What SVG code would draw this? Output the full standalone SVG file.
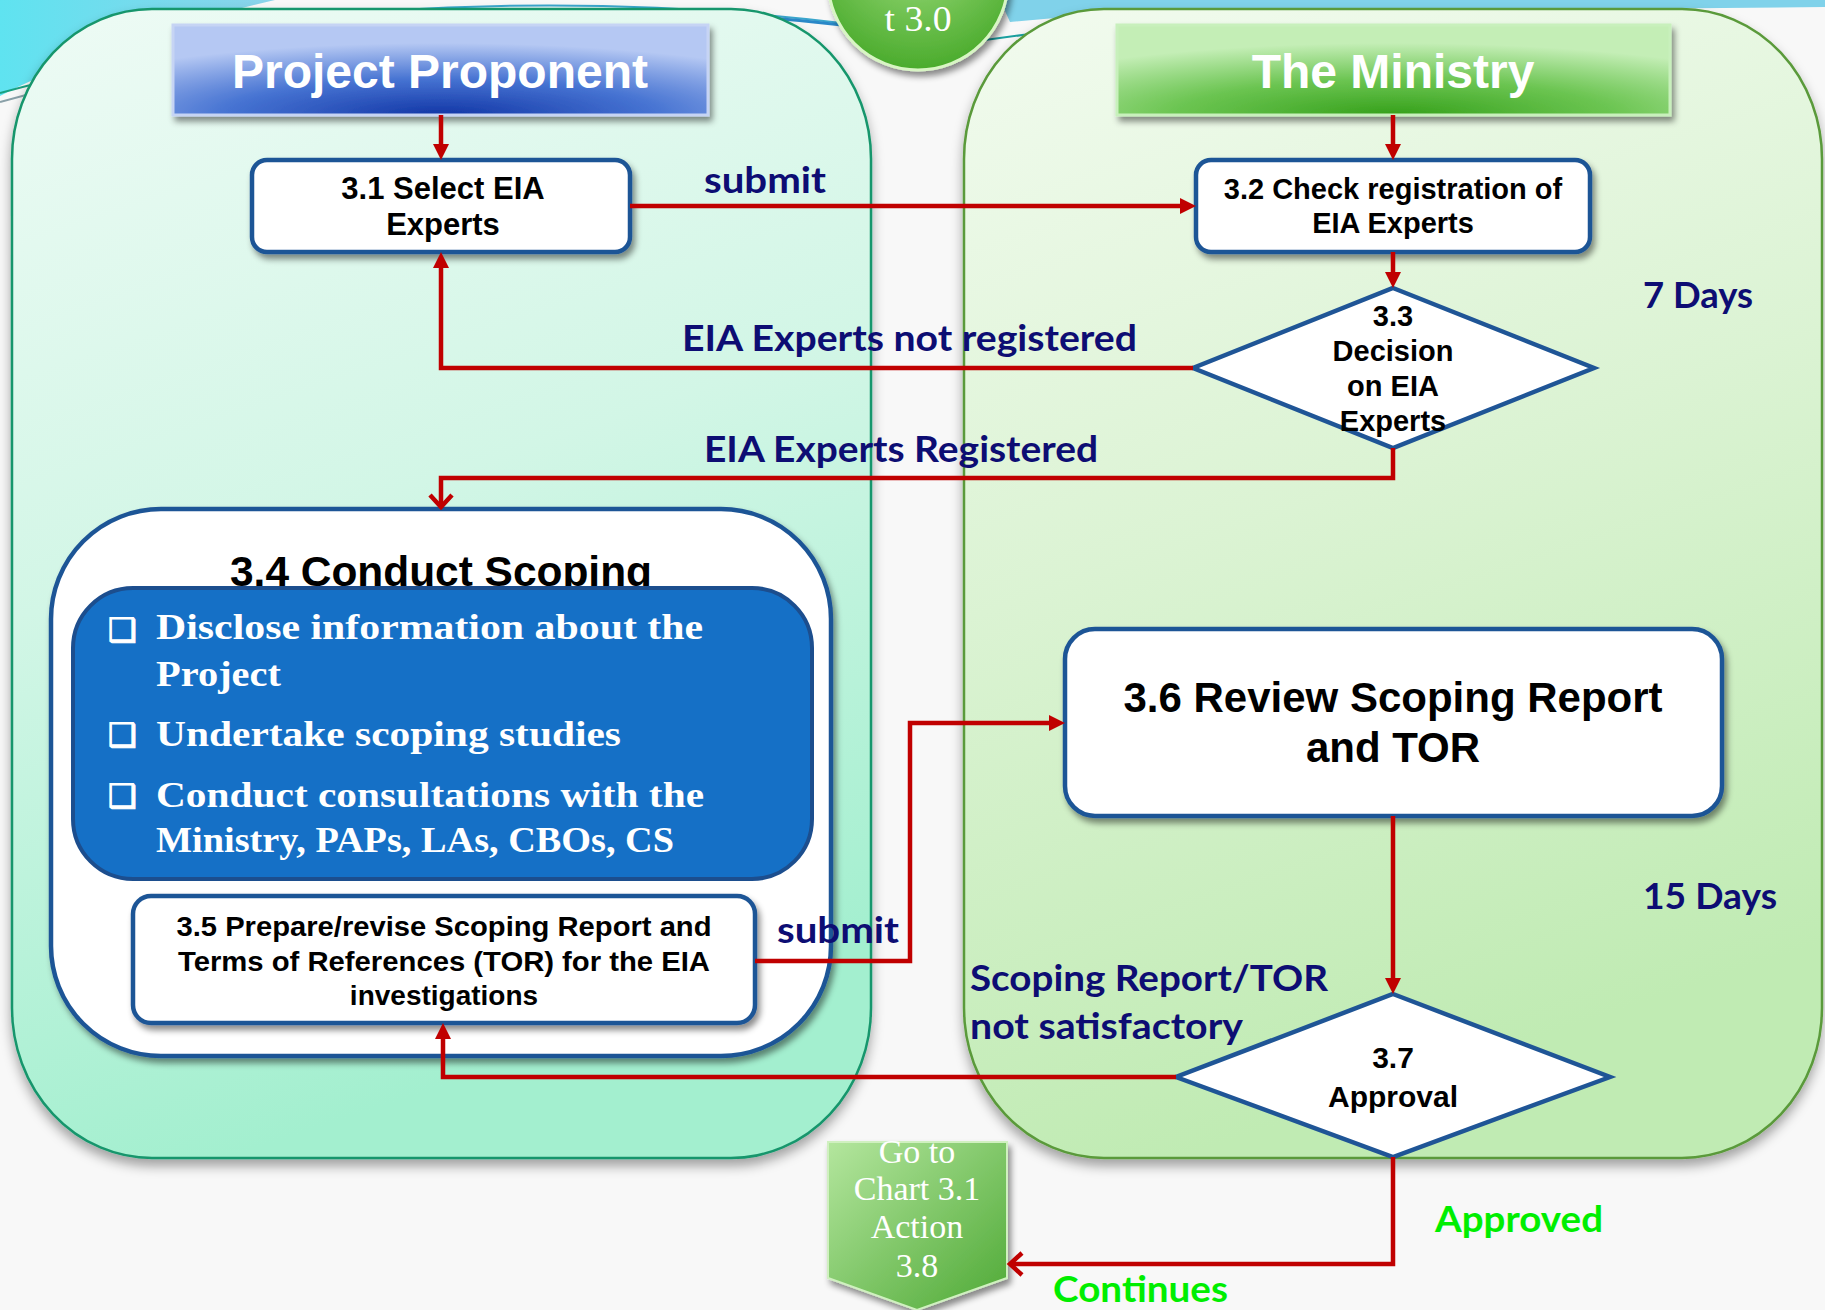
<svg xmlns="http://www.w3.org/2000/svg" width="1825" height="1310" viewBox="0 0 1825 1310">
<defs>
  <linearGradient id="gLeft" x1="0" y1="0" x2="0.25" y2="1">
    <stop offset="0" stop-color="#eefbf5"/>
    <stop offset="0.5" stop-color="#d2f6e6"/>
    <stop offset="1" stop-color="#a3efcf"/>
  </linearGradient>
  <linearGradient id="gRight" x1="0" y1="0" x2="0.25" y2="1">
    <stop offset="0" stop-color="#f2fbef"/>
    <stop offset="0.5" stop-color="#dbf3d3"/>
    <stop offset="1" stop-color="#c0ebb3"/>
  </linearGradient>
  <radialGradient id="gHdrBlue" cx="0.5" cy="1" r="0.8">
    <stop offset="0" stop-color="#1236a6"/>
    <stop offset="0.5" stop-color="#4673d2"/>
    <stop offset="1" stop-color="#b5c8f3"/>
  </radialGradient>
  <radialGradient id="gHdrGreen" cx="0.5" cy="1" r="0.8">
    <stop offset="0" stop-color="#35a01a"/>
    <stop offset="0.5" stop-color="#6cc552"/>
    <stop offset="1" stop-color="#c4eeb6"/>
  </radialGradient>
  <radialGradient id="gBadge" cx="0.5" cy="0.3" r="0.7">
    <stop offset="0" stop-color="#a2df82"/>
    <stop offset="1" stop-color="#4aab2c"/>
  </radialGradient>
  <linearGradient id="gGoto" x1="0" y1="0" x2="1" y2="1">
    <stop offset="0" stop-color="#b4e69e"/>
    <stop offset="1" stop-color="#4ea935"/>
  </linearGradient>
  <linearGradient id="gCyan" x1="0" y1="0" x2="1" y2="0">
    <stop offset="0" stop-color="#5fe3f0"/>
    <stop offset="1" stop-color="#8bd3ea"/>
  </linearGradient>
  <filter id="sh" x="-10%" y="-10%" width="125%" height="140%">
    <feDropShadow dx="3" dy="5" stdDeviation="3" flood-color="#000" flood-opacity="0.45"/>
  </filter>
  <filter id="shPanel" x="-5%" y="-5%" width="110%" height="112%">
    <feDropShadow dx="0" dy="7" stdDeviation="6" flood-color="#000" flood-opacity="0.35"/>
  </filter>
  <marker id="arr" markerUnits="userSpaceOnUse" markerWidth="16" markerHeight="16" refX="8" refY="8" orient="auto">
    <path d="M0,0 L16,8 L0,16 Z" fill="#C00000"/>
  </marker>
  <marker id="openArr" markerUnits="userSpaceOnUse" markerWidth="30" markerHeight="30" refX="14" refY="13" orient="auto" overflow="visible">
    <path d="M2,2 L14,13 L2,24" fill="none" stroke="#C00000" stroke-width="4.5"/>
  </marker>
</defs>
<style>
  .panelL { fill:url(#gLeft); stroke:#17966c; stroke-width:2.5; }
  .panelR { fill:url(#gRight); stroke:#5a9a3a; stroke-width:2.5; }
  .box { fill:#fff; stroke:#1F5596; stroke-width:4.5; }
  .nt { font-family:"Liberation Sans", Arial, sans-serif; font-weight:bold; fill:#000; text-anchor:middle; }
  .hdr { font-family:"Liberation Sans", Arial, sans-serif; font-weight:bold; fill:#fff; font-size:48px; text-anchor:middle; }
  .lbl { font-family:Lato, "Open Sans", sans-serif; font-weight:bold; fill:#0D0D73; font-size:37px; }
  .grn { fill:#00EE00; }
  .bul { font-family:"Liberation Serif", serif; font-weight:bold; fill:#fff; font-size:36px; }
  .chk { font-family:"DejaVu Sans", sans-serif; fill:#fff; stroke:#fff; stroke-width:1.2; font-size:32px; }
  .srf { font-family:"Liberation Serif", serif; fill:#fff; text-anchor:middle; }
  .con { fill:none; stroke:#C00000; stroke-width:4.5; }
</style>

<!-- background -->
<rect x="0" y="0" width="1825" height="1310" fill="#f8f8f8"/>
<path d="M0,0 H275 C170,25 80,55 0,96 Z" fill="url(#gCyan)"/>
<path d="M0,93 Q40,82 95,70" fill="none" stroke="#1aa080" stroke-width="2"/>
<path d="M0,102 Q35,92 70,84" fill="none" stroke="#8aa0a8" stroke-width="2"/>
<path d="M260,22 Q560,-12 850,24" fill="none" stroke="#3aa6cc" stroke-width="2"/>
<path d="M760,17 Q800,20 842,25" fill="none" stroke="#2a88c8" stroke-width="3"/>
<path d="M1000,0 H1825 V7 L1500,10 L1100,14 L1010,22 Z" fill="#80d2ea"/>
<path d="M985,40 L1030,34" fill="none" stroke="#1aa0a0" stroke-width="2"/>

<!-- swimlanes -->
<g id="lane-proponent">
  <rect class="panelL" x="12" y="9" width="859" height="1149" rx="140" ry="150" filter="url(#shPanel)"/>
  <rect x="173" y="25" width="535" height="90" fill="url(#gHdrBlue)" stroke="#c6d4f4" stroke-width="3" filter="url(#sh)"/>
  <text class="hdr" x="440" y="88">Project Proponent</text>
</g>
<g id="lane-ministry">
  <rect class="panelR" x="964" y="9" width="858" height="1149" rx="140" ry="150" filter="url(#shPanel)"/>
  <rect x="1117" y="25" width="553" height="90" fill="url(#gHdrGreen)" stroke="#c8f0bc" stroke-width="3" filter="url(#sh)"/>
  <text class="hdr" x="1393" y="88">The Ministry</text>
</g>

<g id="badge-3-0">
  <circle cx="918" cy="-20" r="90" fill="url(#gBadge)" stroke="#d8f5c4" stroke-width="3" filter="url(#sh)"/>
  <text class="srf" x="918" y="31" font-size="35" textLength="67" lengthAdjust="spacingAndGlyphs">t 3.0</text>
</g>

<!-- nodes -->
<g id="n31">
  <rect class="box" x="252" y="160" width="378" height="92" rx="15" filter="url(#sh)"/>
  <text class="nt" x="443" y="199" font-size="31">3.1 Select EIA</text>
  <text class="nt" x="443" y="235" font-size="31">Experts</text>
</g>
<g id="n32">
  <rect class="box" x="1196" y="160" width="394" height="92" rx="15" filter="url(#sh)"/>
  <text class="nt" x="1393" y="199" font-size="29">3.2 Check registration of</text>
  <text class="nt" x="1393" y="233" font-size="29">EIA Experts</text>
</g>
<g id="n33">
  <polygon class="box" points="1393,288 1594,368 1393,448 1193,368"/>
  <text class="nt" x="1393" y="326" font-size="29">3.3</text>
  <text class="nt" x="1393" y="361" font-size="29">Decision</text>
  <text class="nt" x="1393" y="396" font-size="29">on EIA</text>
  <text class="nt" x="1393" y="431" font-size="29">Experts</text>
</g>
<g id="n34">
  <rect class="box" x="51" y="509" width="780" height="547" rx="110" filter="url(#sh)"/>
  <text class="nt" x="441" y="586" font-size="42" textLength="422" lengthAdjust="spacingAndGlyphs">3.4 Conduct Scoping</text>
  <rect x="73" y="588" width="739" height="291" rx="60" fill="#1570C6" stroke="#1C4E8E" stroke-width="4"/>
  <text class="chk" x="108" y="641">❑</text>
  <text class="bul" x="156" y="639" textLength="547" lengthAdjust="spacingAndGlyphs">Disclose information about the</text>
  <text class="bul" x="156" y="686" textLength="125" lengthAdjust="spacingAndGlyphs">Project</text>
  <text class="chk" x="108" y="746">❑</text>
  <text class="bul" x="156" y="746" textLength="465" lengthAdjust="spacingAndGlyphs">Undertake scoping studies</text>
  <text class="chk" x="108" y="807">❑</text>
  <text class="bul" x="156" y="807" textLength="548" lengthAdjust="spacingAndGlyphs">Conduct consultations with the</text>
  <text class="bul" x="156" y="852" textLength="518" lengthAdjust="spacingAndGlyphs">Ministry, PAPs, LAs, CBOs, CS</text>
</g>
<g id="n35">
  <rect class="box" x="133" y="896" width="622" height="127" rx="18" filter="url(#sh)"/>
  <text class="nt" x="444" y="936" font-size="28" textLength="535" lengthAdjust="spacingAndGlyphs">3.5 Prepare/revise Scoping Report and</text>
  <text class="nt" x="444" y="971" font-size="28" textLength="532" lengthAdjust="spacingAndGlyphs">Terms of References (TOR) for the EIA</text>
  <text class="nt" x="444" y="1005" font-size="28">investigations</text>
</g>
<g id="n36">
  <rect class="box" x="1065" y="629" width="657" height="187" rx="30" filter="url(#sh)"/>
  <text class="nt" x="1393" y="712" font-size="42">3.6 Review Scoping Report</text>
  <text class="nt" x="1393" y="762" font-size="42">and TOR</text>
</g>
<g id="n37">
  <polygon class="box" points="1393,994 1610,1077 1393,1157 1176,1077"/>
  <text class="nt" x="1393" y="1068" font-size="30">3.7</text>
  <text class="nt" x="1393" y="1107" font-size="30">Approval</text>
</g>
<g id="goto-38">
  <polygon points="828,1142 1007,1142 1007,1278 917,1310 828,1278" fill="url(#gGoto)" stroke="#d0f0c0" stroke-width="2" filter="url(#sh)"/>
  <text class="srf" x="917" y="1163" font-size="34">Go to</text>
  <text class="srf" x="917" y="1200" font-size="34">Chart 3.1</text>
  <text class="srf" x="917" y="1238" font-size="34">Action</text>
  <text class="srf" x="917" y="1277" font-size="34">3.8</text>
</g>

<!-- connectors -->
<g id="connectors">
  <path class="con" d="M441,115 V152" marker-end="url(#arr)"/>
  <path class="con" d="M1393,115 V152" marker-end="url(#arr)"/>
  <path class="con" d="M630,206 H1188" marker-end="url(#arr)"/>
  <path class="con" d="M1393,252 V280" marker-end="url(#arr)"/>
  <path class="con" d="M1193,368 H441 V260" marker-end="url(#arr)"/>
  <path class="con" d="M1393,448 V478 H441 V507" marker-end="url(#openArr)"/>
  <path class="con" d="M755,961 H910 V723 H1057" marker-end="url(#arr)"/>
  <path class="con" d="M1393,816 V986" marker-end="url(#arr)"/>
  <path class="con" d="M1176,1077 H443 V1031" marker-end="url(#arr)"/>
  <path class="con" d="M1393,1157 V1264 H1010" marker-end="url(#openArr)"/>

  <text class="lbl" x="704" y="193" textLength="122" lengthAdjust="spacingAndGlyphs">submit</text>
  <text class="lbl" x="682" y="351" textLength="455" lengthAdjust="spacingAndGlyphs">EIA Experts not registered</text>
  <text class="lbl" x="704" y="462" textLength="394" lengthAdjust="spacingAndGlyphs">EIA Experts Registered</text>
  <text class="lbl" x="777" y="943" textLength="122" lengthAdjust="spacingAndGlyphs">submit</text>
  <text class="lbl" x="970" y="991" textLength="358" lengthAdjust="spacingAndGlyphs">Scoping Report/TOR</text>
  <text class="lbl" x="970" y="1039" textLength="273" lengthAdjust="spacingAndGlyphs">not satisfactory</text>
  <text class="lbl grn" x="1435" y="1232" textLength="168" lengthAdjust="spacingAndGlyphs">Approved</text>
  <text class="lbl grn" x="1053" y="1302" textLength="175" lengthAdjust="spacingAndGlyphs">Continues</text>
</g>

<g id="durations">
  <text class="lbl" x="1643" y="308" textLength="110" lengthAdjust="spacingAndGlyphs">7 Days</text>
  <text class="lbl" x="1643" y="909" textLength="134" lengthAdjust="spacingAndGlyphs">15 Days</text>
</g>
</svg>
